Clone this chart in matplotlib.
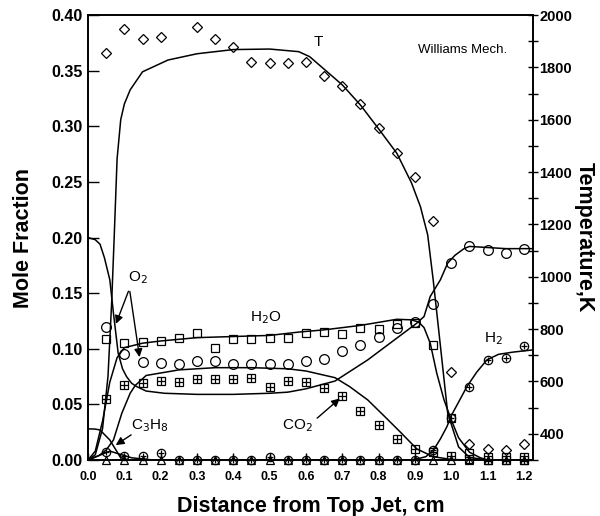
import matplotlib.pyplot as plt
import numpy as np

plt.rcParams['font.family'] = ['Liberation Sans', 'DejaVu Sans']

# measured points (x in cm)
x_pts = [0.05, 0.10, 0.15, 0.20, 0.25, 0.30, 0.35, 0.40, 0.45, 0.50, 0.55, 0.60,
         0.65, 0.70, 0.75, 0.80, 0.85, 0.90, 0.95, 1.00, 1.05, 1.10, 1.15, 1.20]
O2_pts = [0.120, 0.095, 0.088, 0.087, 0.086, 0.089, 0.089, 0.086, 0.086, 0.086, 0.086, 0.089,
          0.091, 0.098, 0.103, 0.111, 0.119, 0.124, 0.140, 0.177, 0.192, 0.189, 0.186, 0.190]
H2O_pts = [0.1085, 0.105, 0.106, 0.107, 0.110, 0.114, 0.101, 0.109, 0.109, 0.110, 0.110, 0.114,
           0.115, 0.113, 0.119, 0.118, 0.122, 0.123, 0.103, 0.038, 0.006, 0.003, 0.003, 0.003]
CO2_pts = [0.055, 0.067, 0.0695, 0.071, 0.070, 0.0725, 0.0725, 0.073, 0.0735, 0.066, 0.071, 0.070,
           0.065, 0.0575, 0.044, 0.0315, 0.019, 0.010, 0.0075, 0.004, 0.001, 0.0, 0.0, 0.0]
H2_pts = [0.0075, 0.0036, 0.0036, 0.006, 0.0, 0.0, 0.0, 0.0, 0.0, 0.003, 0.0, 0.0,
          0.0, 0.0, 0.0, 0.0, 0.0, 0.0, 0.009, 0.0375, 0.066, 0.090, 0.092, 0.1025]
C3H8_pts = [0.0] * 24

# temperature points (no reading at 0.25)
xT_pts = [0.05, 0.10, 0.15, 0.20, 0.30, 0.35, 0.40, 0.45, 0.50, 0.55, 0.60,
          0.65, 0.70, 0.75, 0.80, 0.85, 0.90, 0.95, 1.00, 1.05, 1.10, 1.15, 1.20]
T_pts = [1856, 1945, 1908, 1916, 1955, 1908, 1879, 1819, 1815, 1818, 1822,
         1767, 1728, 1660, 1567, 1472, 1380, 1214, 637, 360, 342, 338, 361]

# model curves
xT = [0.0, 0.02, 0.04, 0.055, 0.065, 0.072, 0.08, 0.09, 0.10, 0.116, 0.15, 0.22, 0.30, 0.40,
      0.50, 0.58, 0.61, 0.70, 0.75, 0.80, 0.85, 0.89, 0.915, 0.935, 0.95, 0.965, 0.99, 1.02,
      1.05, 1.10, 1.225]
T_mod = [300, 320, 420, 620, 900, 1150, 1450, 1600, 1660, 1714, 1783, 1828, 1852, 1868,
         1870, 1860, 1841, 1733, 1656, 1565, 1472, 1360, 1268, 1160, 990, 800, 480, 350,
         310, 300, 300]
xO2 = [0.0, 0.02, 0.033, 0.045, 0.06, 0.07, 0.083, 0.095, 0.106, 0.12, 0.134, 0.16, 0.21, 0.30,
       0.40, 0.50, 0.55, 0.60, 0.68, 0.77, 0.86, 0.905, 0.925, 0.942, 0.97, 0.99, 1.01, 1.035,
       1.05, 1.10, 1.15, 1.225]
O2_mod = [0.200, 0.198, 0.194, 0.182, 0.162, 0.132, 0.096, 0.082, 0.075, 0.069, 0.066, 0.062,
          0.060, 0.059, 0.059, 0.060, 0.061, 0.064, 0.071, 0.090, 0.112, 0.123, 0.129, 0.147,
          0.162, 0.177, 0.184, 0.190, 0.192, 0.191, 0.190, 0.190]
xH2O = [0.0, 0.02, 0.04, 0.06, 0.08, 0.10, 0.15, 0.20, 0.30, 0.40, 0.50, 0.58, 0.65, 0.75,
        0.85, 0.89, 0.91, 0.925, 0.942, 0.96, 0.98, 1.00, 1.02, 1.05, 1.08, 1.10, 1.225]
H2O_mod = [0.0, 0.008, 0.035, 0.070, 0.092, 0.101, 0.105, 0.107, 0.110, 0.111, 0.112, 0.115,
           0.117, 0.121, 0.1265, 0.126, 0.124, 0.119, 0.105, 0.078, 0.054, 0.036, 0.020, 0.007,
           0.002, 0.0, 0.0]
xCO2 = [0.0, 0.03, 0.05, 0.07, 0.093, 0.116, 0.13, 0.16, 0.25, 0.35, 0.45, 0.55, 0.60, 0.68,
        0.72, 0.77, 0.82, 0.86, 0.905, 0.95, 1.00, 1.05, 1.225]
CO2_mod = [0.0, 0.004, 0.009, 0.018, 0.042, 0.060, 0.067, 0.076, 0.081, 0.083, 0.083, 0.082,
           0.080, 0.074, 0.066, 0.054, 0.038, 0.025, 0.010, 0.003, 0.0005, 0.0, 0.0]
xC3H8 = [0.0, 0.02, 0.033, 0.045, 0.06, 0.075, 0.088, 0.10, 0.12, 1.225]
C3H8_mod = [0.028, 0.0278, 0.027, 0.023, 0.018, 0.010, 0.003, 0.0008, 0.0, 0.0]
xH2 = [0.0, 0.03, 0.06, 0.09, 0.12, 0.18, 0.88, 0.90, 0.93, 0.951, 0.97, 0.988, 1.00, 1.02,
       1.043, 1.07, 1.098, 1.13, 1.17, 1.225]
H2_mod = [0.0, 0.004, 0.008, 0.005, 0.002, 0.0, 0.0, 0.0005, 0.003, 0.009, 0.019, 0.030, 0.040,
          0.052, 0.066, 0.079, 0.090, 0.095, 0.097, 0.099]

fig = plt.figure(figsize=(6, 5.16), dpi=100)
ax = fig.add_axes([0.1467, 0.1085, 0.7417, 0.8624])
ax2 = ax.twinx()

lw = 1.1
mk = dict(linestyle='none', markerfacecolor='none', markeredgecolor='black', markeredgewidth=0.9)

ax.plot(xO2, O2_mod, color='black', lw=lw)
ax.plot(xH2O, H2O_mod, color='black', lw=lw)
ax.plot(xCO2, CO2_mod, color='black', lw=lw)
ax.plot(xC3H8, C3H8_mod, color='black', lw=lw)
ax.plot(xH2, H2_mod, color='black', lw=lw)

ax.plot(x_pts, C3H8_pts, marker='^', markersize=6, clip_on=False, **mk)
ax.plot(x_pts, O2_pts, marker='o', markersize=7, **mk)
ax.plot(x_pts, H2O_pts, marker='s', markersize=6, clip_on=False, **mk)
ax.plot(x_pts, CO2_pts, marker='s', markersize=6, clip_on=False, **mk)
ax.plot(x_pts, CO2_pts, marker='+', markersize=6, clip_on=False, **mk)
ax.plot(x_pts, H2_pts, marker='o', markersize=6, clip_on=False, **mk)
ax.plot(x_pts, H2_pts, marker='+', markersize=5, clip_on=False, **mk)

ax2.plot(xT, T_mod, color='black', lw=lw)
ax2.plot(xT_pts, T_pts, marker='D', markersize=5, **mk)

ax.set_xlim(0, 1.225)
ax.set_ylim(0, 0.40)
ax2.set_ylim(300, 2000)

ax.set_xticks(np.arange(0, 1.21, 0.1))
ax.set_xticklabels([f'{v:.1f}' for v in np.arange(0, 1.21, 0.1)], fontsize=9, fontweight='bold')
ax.set_yticks(np.arange(0, 0.401, 0.05))
ax.set_yticklabels([f'{v:.2f}' for v in np.arange(0, 0.401, 0.05)], fontsize=11.5, fontweight='bold')
ax2.set_yticks(np.arange(400, 2001, 200))
ax2.set_yticks(np.arange(300, 2000, 100), minor=True)
ax2.set_yticklabels([str(v) for v in range(400, 2001, 200)], fontsize=10.5, fontweight='bold')

ax.tick_params(axis='x', direction='in', length=5, width=1, pad=8)
ax.tick_params(axis='y', direction='in', length=8, width=1, pad=4)
ax2.tick_params(axis='y', which='both', direction='inout', length=7, width=1, pad=1)

for a in (ax, ax2):
    for s in a.spines.values():
        s.set_linewidth(1.2)

ax.set_xlabel('Distance from Top Jet, cm', fontsize=15.5, fontweight='bold', labelpad=9)
ax.set_ylabel('Mole Fraction', fontsize=15.5, fontweight='bold', labelpad=12)
ax2.set_ylabel('Temperature,K', fontsize=15.5, fontweight='bold', rotation=270, labelpad=16)

# labels and arrows
ax.text(0.633, 0.376, 'T', fontsize=11, ha='center', va='center')
ax.text(1.154, 0.369, 'Williams Mech.', fontsize=9.5, ha='right', va='center')
ax.text(0.138, 0.164, 'O$_2$', fontsize=11, ha='center', va='center')
ax.text(0.488, 0.128, 'H$_2$O', fontsize=11, ha='center', va='center')
ax.text(0.171, 0.031, 'C$_3$H$_8$', fontsize=11, ha='center', va='center')
ax.text(0.575, 0.031, 'CO$_2$', fontsize=11, ha='center', va='center')
ax.text(1.117, 0.109, 'H$_2$', fontsize=11, ha='center', va='center')

arr = dict(arrowstyle='-|>', color='black', lw=1.0, mutation_scale=12)
ax.annotate('', xy=(0.074, 0.120), xytext=(0.114, 0.154), arrowprops=arr)
ax.annotate('', xy=(0.143, 0.090), xytext=(0.114, 0.154), arrowprops=arr)
ax.annotate('', xy=(0.070, 0.012), xytext=(0.125, 0.024), arrowprops=arr)
ax.annotate('', xy=(0.699, 0.057), xytext=(0.625, 0.036), arrowprops=arr)

fig.savefig('out.png', dpi=100)
